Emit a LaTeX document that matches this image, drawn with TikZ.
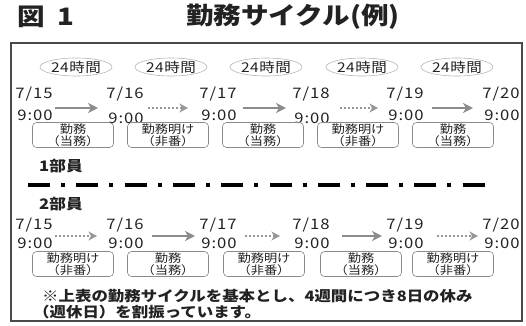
\documentclass[tikz,border=0pt]{standalone}
\usepackage{fontspec}
\setmainfont{Noto Sans CJK JP}[FakeStretch=1.15]
\usetikzlibrary{shapes.geometric,arrows.meta,calc}
\definecolor{txt}{HTML}{222222}
\definecolor{arr}{HTML}{8C8C8C}
\definecolor{framec}{HTML}{4A4A4A}
\definecolor{boxc}{HTML}{8A8A8A}
\definecolor{ell}{HTML}{B5B5B5}
\tikzset{
  hours/.style={ellipse, draw=ell, line width=0.6pt, minimum width=72pt, minimum height=18pt, inner sep=0pt, text=txt,
    font=\fontsize{13.5}{13.5}\selectfont\addfontfeature{LetterSpace=4}},
  datelbl/.style={inner sep=0pt, text=txt, font=\fontsize{14.5}{14.5}\selectfont\addfontfeature{LetterSpace=7}},
  duty/.style={draw=boxc, line width=0.6pt, rounded corners=4pt, minimum width=81pt, minimum height=25pt, inner sep=0pt,
    align=center, text=txt, font=\fontsize{11.5}{12.5}\selectfont},
  solidarr/.style={draw=arr, line width=2.8pt, -{Stealth[length=10pt,width=10pt,inset=3pt]}},
  dotarr/.style={draw=arr!90, line width=2.2pt, dash pattern=on 2.4pt off 1.6pt, -{Stealth[length=8.5pt,width=9pt,inset=2.5pt]}},
  member/.style={inner sep=0pt, text=txt, font=\bfseries\fontsize{14.5}{14.5}\selectfont},
  note/.style={inner sep=0pt, anchor=west, text=txt, font=\bfseries\fontsize{14.3}{14.3}\selectfont},
  titlestyle/.style={inner sep=0pt, text=txt, font=\bfseries\fontsize{24}{24}\selectfont},
}
\begin{document}
\begin{tikzpicture}[x=1pt,y=-1pt]
\useasboundingbox (0,0) rectangle (526,325);
% title
\node[titlestyle, anchor=west] (fig) at (17,17) {図\hspace{13pt}1};
\node[titlestyle] (title) at (293,17) {勤務サイクル(例)};
% frame
\draw[framec, line width=1.3pt] (11,43) rectangle (522,321);
% 24 hours ellipses
\foreach \x [count=\i] in {76,171,266,362,457}
  \node[hours] (h\i) at (\x,67) {24時間};
% row 1
\foreach \x/\d/\dy [count=\i] in {34/15/0,125/16/3,218/17/0,311/18/3,405/19/0,501/20/0} {
  \node[datelbl] (ad\i) at (\x,94) {7/\d};
  \node[datelbl] (at\i) at (\x+1,115+\dy) {9:00};
  \coordinate (ac\i) at (\x,108);
}
\draw[solidarr] ([xshift=21pt]ac1) -- ([xshift=-27pt]ac2);
\draw[dotarr]   ([xshift=23pt]ac2) -- ([xshift=-30pt]ac3);
\draw[solidarr] ([xshift=25pt]ac3) -- ([xshift=-25pt]ac4);
\draw[dotarr]   ([xshift=29pt]ac4) -- ([xshift=-27pt]ac5);
\draw[solidarr] ([xshift=27pt]ac5) -- ([xshift=-28pt]ac6);
\node[duty] (ab1) at (73,135)  {勤務\\（当務）};
\node[duty] (ab2) at (168,135) {勤務明け\\（非番）};
\node[duty] (ab3) at (263,135) {勤務\\（当務）};
\node[duty] (ab4) at (358,135) {勤務明け\\（非番）};
\node[duty] (ab5) at (453,135) {勤務\\（当務）};
% separator
\node[member] (m1) at (61,166) {1部員};
\coordinate (sepL) at (28,185);
\coordinate (sepR) at (486,185);
\draw[black, line width=3.5pt, dash pattern=on 22pt off 11pt on 4pt off 11.3pt] (sepL) -- (sepR);
\node[member] (m2) at (61,204) {2部員};
% row 2
\foreach \x/\d [count=\i] in {34/15,125/16,218/17,311/18,405/19,501/20} {
  \node[datelbl] (bd\i) at (\x,225) {7/\d};
  \node[datelbl] (bt\i) at (\x+1,243) {9:00};
  \coordinate (bc\i) at (\x,236);
}
\draw[dotarr]   ([xshift=21pt]bc1) -- ([xshift=-28pt]bc2);
\draw[solidarr] ([xshift=27pt]bc2) -- ([xshift=-23pt]bc3);
\draw[dotarr]   ([xshift=27pt]bc3) -- ([xshift=-31pt]bc4);
\draw[solidarr] ([xshift=31pt]bc4) -- ([xshift=-23pt]bc5);
\draw[dotarr]   ([xshift=32pt]bc5) -- ([xshift=-23pt]bc6);
\node[duty] (bb1) at (73,264)  {勤務明け\\（非番）};
\node[duty] (bb2) at (168,264) {勤務\\（当務）};
\node[duty] (bb3) at (264,264) {勤務明け\\（非番）};
\node[duty] (bb4) at (361,264) {勤務\\（当務）};
\node[duty] (bb5) at (453,264) {勤務明け\\（非番）};
% note
\node[note] (n1) at (42,296) {※上表の勤務サイクルを基本とし、4週間につき8日の休み};
\node[note] (n2) at (33,312) {（週休日）を割振っています。};
\end{tikzpicture}
\end{document}
